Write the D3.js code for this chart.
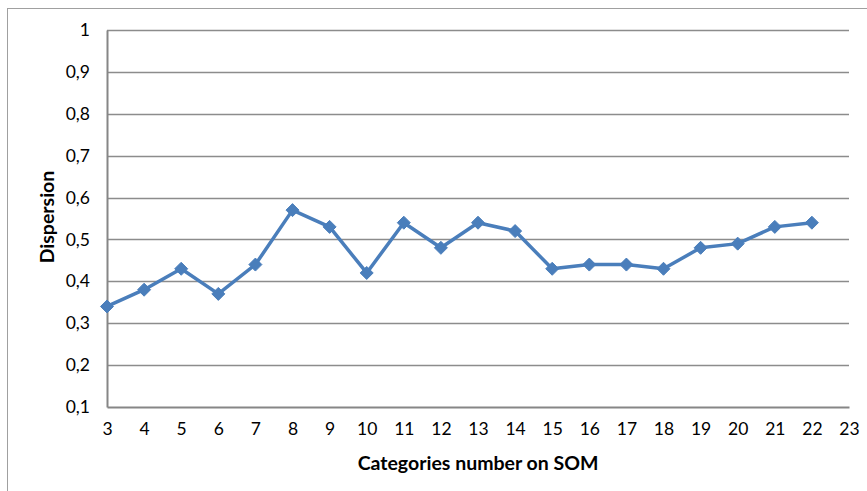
<!DOCTYPE html>
<html><head><meta charset="utf-8">
<script src="https://cdn.jsdelivr.net/npm/d3@7"></script>
<style>body{margin:0;background:#fff;} text{font-family:Lato,"Open Sans",sans-serif;}</style>
</head><body>
<svg id="c" width="867" height="491"></svg>
<script>
const categories = [3,4,5,6,7,8,9,10,11,12,13,14,15,16,17,18,19,20,21,22];
const dispersion = [0.34,0.38,0.43,0.37,0.44,0.57,0.53,0.42,0.54,0.48,0.54,0.52,0.43,0.44,0.44,0.43,0.48,0.49,0.53,0.54];
const xTicks = [3,4,5,6,7,8,9,10,11,12,13,14,15,16,17,18,19,20,21,22,23];
const yTicks = [0.1,0.2,0.3,0.4,0.5,0.6,0.7,0.8,0.9,1];

const svg = d3.select("#c");
svg.append("rect").attr("x",7.5).attr("y",8.5).attr("width",880).attr("height",500)
  .attr("fill","none").attr("stroke","#a0a0a0").attr("stroke-width",1);

const L=107,R=849,T=30,B=407;
const x = d3.scaleLinear().domain([3,23]).range([L,R]);
const y = d3.scaleLinear().domain([0.1,1]).range([B,T]);

// gridlines
svg.append("g").selectAll("line").data(yTicks.filter(d=>d>0.1)).join("line")
  .attr("x1",L).attr("x2",R).attr("y1",d=>Math.round(y(d))+0.5).attr("y2",d=>Math.round(y(d))+0.5)
  .attr("stroke","#8c8c8c").attr("stroke-width",1.3);

// axes
const fmt = d => d3.format(".1~f")(d).replace(".",",");
const ya = svg.append("g").attr("transform",`translate(${L},0)`)
  .call(d3.axisLeft(y).tickValues(yTicks).tickFormat(fmt).tickSize(0).tickPadding(17));
ya.select(".domain").attr("stroke","#868686").attr("stroke-width",2);
ya.selectAll("text").attr("font-size",17.5).attr("fill","#000").attr("font-family","Lato, 'Open Sans', sans-serif");

const xa = svg.append("g").attr("transform",`translate(0,${B})`)
  .call(d3.axisBottom(x).tickValues(xTicks).tickFormat(d3.format("d")).tickSize(0).tickPadding(16));
xa.select(".domain").attr("stroke","#868686").attr("stroke-width",2);
xa.selectAll("text").attr("font-size",17.5).attr("fill","#000").attr("font-family","Lato, 'Open Sans', sans-serif");

// line
const pts = categories.map((c,i)=>[c,dispersion[i]]);
svg.append("path").datum(pts)
  .attr("d", d3.line().x(d=>x(d[0])).y(d=>y(d[1])))
  .attr("fill","none").attr("stroke","#4A7EBB").attr("stroke-width",3.5).attr("stroke-linejoin","round");

svg.append("g").selectAll("path").data(pts).join("path")
  .attr("transform",d=>`translate(${x(d[0])},${y(d[1])})`)
  .attr("d","M0,-6.5L6.5,0L0,6.5L-6.5,0Z")
  .attr("fill","#4A7EBB").attr("stroke","#4A7EBB").attr("stroke-width",1);

// titles
svg.append("text").attr("x",478).attr("y",470).attr("text-anchor","middle")
  .attr("font-size",19.5).attr("font-weight","bold").text("Categories number on SOM");
svg.append("text").attr("transform",`translate(54,217) rotate(-90)`).attr("text-anchor","middle")
  .attr("font-size",19.5).attr("font-weight","bold").text("Dispersion");
</script>
</body></html>
